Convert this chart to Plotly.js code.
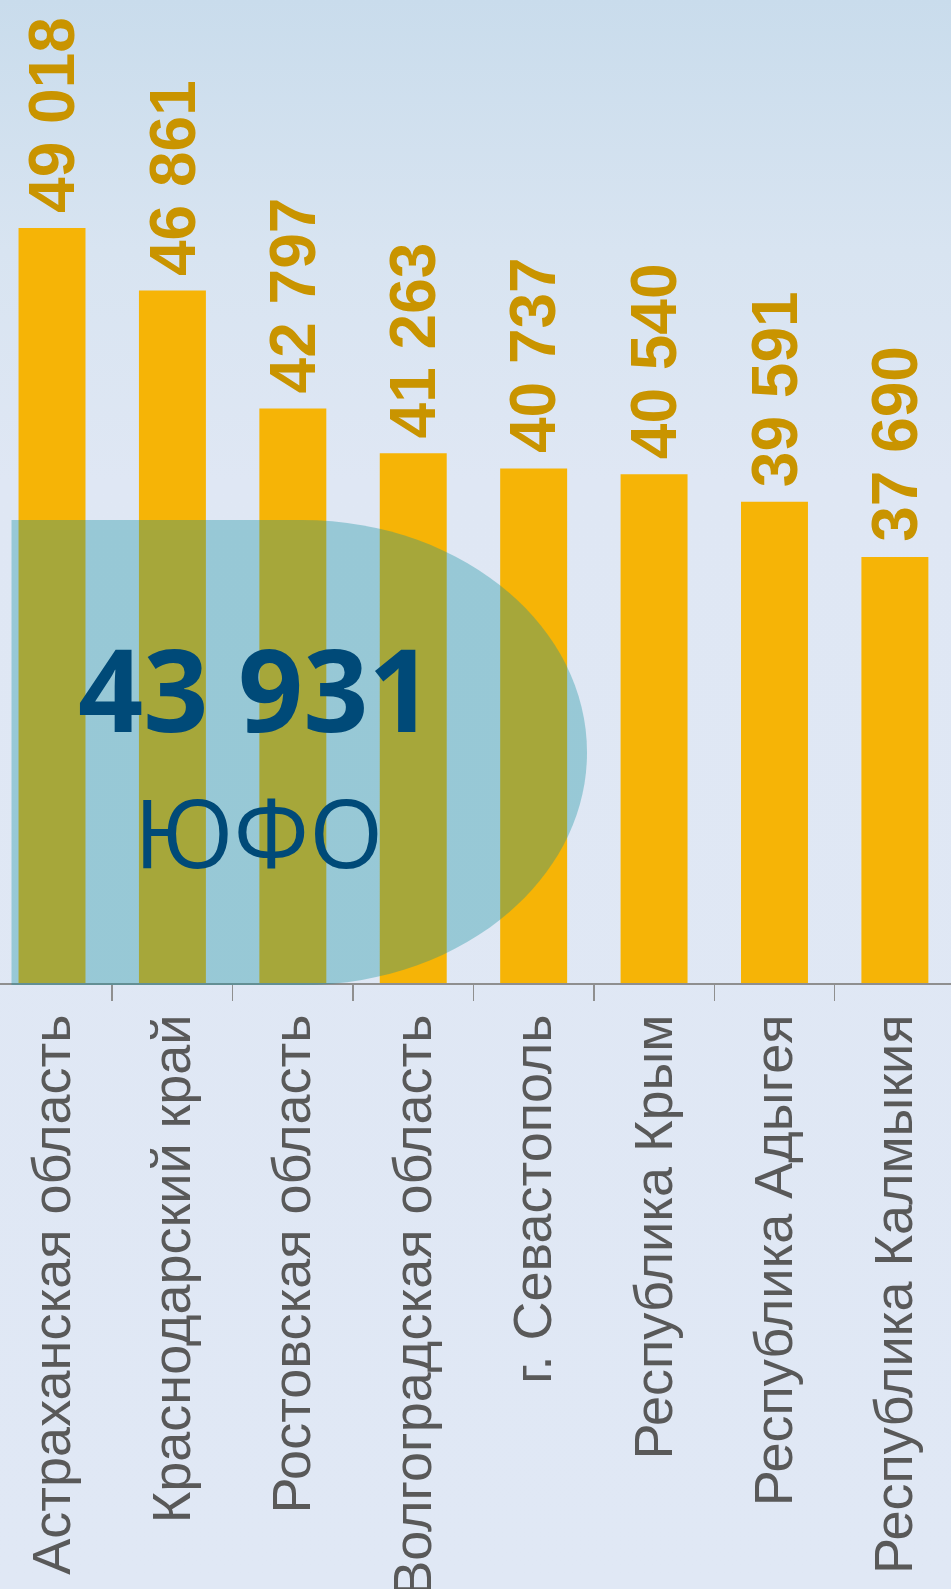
<!DOCTYPE html>
<html>
<head>
<meta charset="utf-8">
<script src="https://cdn.plot.ly/plotly-3.0.1.min.js"></script>
<style>
  html, body { margin: 0; padding: 0; }
  #chart {
    width: 951px; height: 1589px;
    background: linear-gradient(to bottom, #c9dcec 0px, #d8e4f1 250px, #dfe7f4 480px, #e0e8f5 1589px);
  }
</style>
</head>
<body>
<div id="chart"></div>
<script>
// ---- data ----
const regions = [
  "Астраханская область",
  "Краснодарский край",
  "Ростовская область",
  "Волгоградская область",
  "г. Севастополь",
  "Республика Крым",
  "Республика Адыгея",
  "Республика Калмыкия"
];
const salaries = [49018, 46861, 42797, 41263, 40737, 40540, 39591, 37690];
const districtValue = 43931;
const districtName = "ЮФО";

function fmt(v) {
  return String(v).replace(/\B(?=(\d{3})+(?!\d))/g, " ");
}

const W = 951, H = 1589, plotBottom = 983;
const px = x => x / W;
const py = y => (plotBottom - y) / plotBottom;

// D-shaped overlay (pixel geometry converted to paper coords)
const L = 11.5, T = 520, B = 985, S = 302, R = 587, M = (T + B) / 2;
const rx = R - S, ry = (B - T) / 2, k = 0.5523;
const path =
  `M ${px(L)},${py(T)} L ${px(S)},${py(T)} ` +
  `C ${px(S + k * rx)},${py(T)} ${px(R)},${py(M - k * ry)} ${px(R)},${py(M)} ` +
  `C ${px(R)},${py(M + k * ry)} ${px(S + k * rx)},${py(B)} ${px(S)},${py(B)} ` +
  `L ${px(L)},${py(B)} Z`;

const trace = {
  type: "bar",
  x: regions,
  y: salaries,
  width: 0.556,
  marker: { color: "#f6b406" },
  hoverinfo: "skip"
};

const valueLabels = regions.map((r, i) => ({
  x: r, y: salaries[i], xref: "x", yref: "y",
  text: fmt(salaries[i]),
  textangle: -90,
  showarrow: false,
  xanchor: "center", yanchor: "bottom",
  yshift: 13,
  font: { family: "Liberation Sans, Arial, sans-serif", size: 64, color: "#c99400", weight: "bold" }
}));

const layout = {
  width: W, height: H,
  margin: { l: 0, r: 0, t: 0, b: H - plotBottom, pad: 0 },
  paper_bgcolor: "rgba(0,0,0,0)",
  plot_bgcolor: "rgba(0,0,0,0)",
  showlegend: false,
  xaxis: {
    range: [-0.432, 7.466],
    showgrid: false, zeroline: false,
    showline: true, linecolor: "#8f8f8f", linewidth: 2,
    ticks: "outside", tickson: "boundaries", ticklen: 16, tickwidth: 1.5, tickcolor: "#8f8f8f",
    tickangle: -90,
    ticklabelstandoff: 8,
    tickfont: { family: "Liberation Sans, Arial, sans-serif", size: 54, color: "#595959" },
    fixedrange: true
  },
  yaxis: {
    range: [23019, 56865],
    visible: false, showgrid: false, zeroline: false, fixedrange: true
  },
  shapes: [{
    type: "path", xref: "paper", yref: "paper", path: path,
    fillcolor: "rgba(16,144,157,0.35)", line: { width: 0 }, layer: "above"
  }],
  annotations: valueLabels.concat([
    {
      xref: "paper", yref: "paper", x: px(256), y: py(687), xanchor: "center", yanchor: "middle",
      text: "<b>" + fmt(districtValue) + "</b>", showarrow: false,
      font: { family: "Open Sans, Noto Sans, sans-serif", size: 114, color: "#004a78" }
    },
    {
      xref: "paper", yref: "paper", x: px(258), y: py(831), xanchor: "center", yanchor: "middle",
      text: districtName, showarrow: false,
      font: { family: "Open Sans, Noto Sans, sans-serif", size: 95, color: "#004a78" }
    }
  ])
};

Plotly.newPlot("chart", [trace], layout, { displayModeBar: false, staticPlot: true });
</script>
</body>
</html>
